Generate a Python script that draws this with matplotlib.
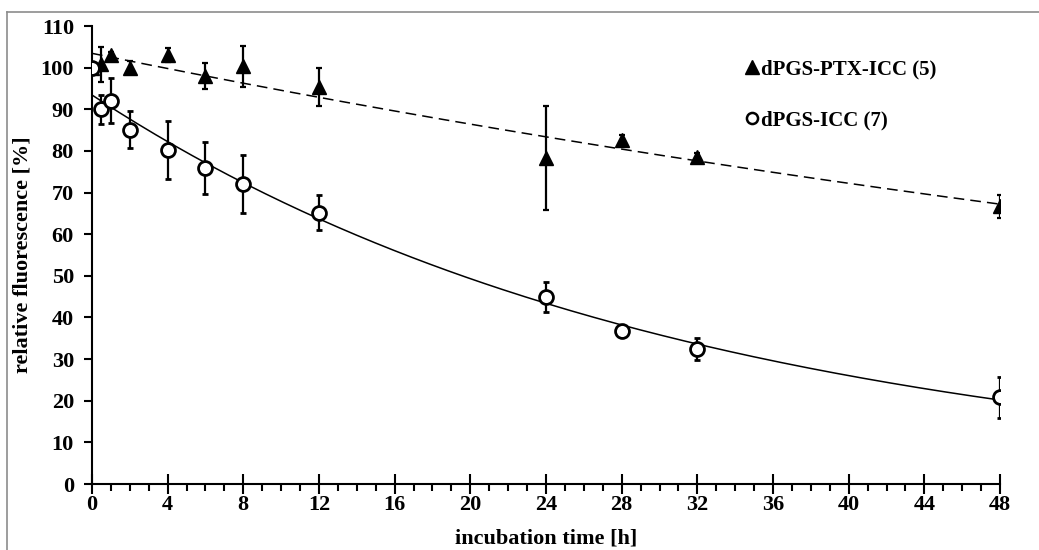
import numpy as np
import matplotlib
matplotlib.use('Agg')
import matplotlib.pyplot as plt
from matplotlib.lines import Line2D

plt.rcParams['font.family'] = ['Liberation Serif', 'DejaVu Serif']
plt.rcParams['font.weight'] = 'bold'

# incubation time [h]
t = [0, 0.5, 1, 2, 4, 6, 8, 12, 24, 28, 32, 48]

# dPGS-PTX-ICC (5)
ptx_y = [100, 100.8, 103, 100, 103, 97.9, 100.3, 95.3, 78.3, 82.6, 78.6, 66.7]
ptx_err = [0, 4.2, 0.8, 1.6, 1.6, 3.1, 4.9, 4.6, 12.5, 1.2, 1.0, 2.8]

# dPGS-ICC (7)
icc_y = [100, 90.0, 92.1, 85.1, 80.3, 75.9, 72.0, 65.1, 44.9, 36.7, 32.4, 20.8]
icc_err = [1.0, 3.5, 5.3, 4.5, 7.0, 6.2, 6.9, 4.2, 3.6, 1.0, 2.7, 5.0]

fig = plt.figure(figsize=(10.39, 5.5), dpi=100)
ax = fig.add_axes([0.0885, 0.12, 0.874, 0.8327])

# exponential trend lines fitted to the data
tt = np.linspace(0, 48, 200)
k1, b1 = np.polyfit(t, np.log(ptx_y), 1)
k2, b2 = np.polyfit(t, np.log(icc_y), 1)
ax.plot(tt, np.exp(b1 + k1 * tt), color='black', lw=1.1, ls=(0, (7, 4)))
ax.plot(tt, np.exp(b2 + k2 * tt), color='black', lw=1.1)

ax.errorbar(t, ptx_y, yerr=ptx_err, fmt='^', color='black', ms=10,
            elinewidth=1.6, capsize=2, capthick=1.6, zorder=3)
ax.errorbar(t, icc_y, yerr=icc_err, fmt='o', mfc='white', mec='black', mew=2,
            color='black', ms=10, elinewidth=1.6, capsize=2, capthick=1.6, zorder=3)

ax.set_xlim(0, 48)
ax.set_ylim(0, 110)
ax.set_xticks([0, 4, 8, 12, 16, 20, 24, 28, 32, 36, 40, 44, 48])
ax.set_xticks(np.arange(0, 49, 1), minor=True)
ax.set_yticks(np.arange(0, 111, 10))

for s in ['top', 'right']:
    ax.spines[s].set_visible(False)
for s in ['left', 'bottom']:
    ax.spines[s].set_linewidth(1.5)

ax.tick_params(axis='x', which='major', direction='inout', length=14, width=1.5,
               labelsize=16, pad=1)
ax.tick_params(axis='x', which='minor', direction='out', length=5, width=1.5)
ax.tick_params(axis='y', which='major', direction='out', length=6, width=1.5,
               labelsize=16, pad=7)

ax.set_xlabel('incubation time [h]', fontsize=16, fontweight='bold', labelpad=10)
ax.set_ylabel('relative fluorescence [%]', fontsize=16, fontweight='bold', labelpad=6)

handles = [Line2D([], [], marker='^', color='black', ls='none', ms=10),
           Line2D([], [], marker='o', mfc='white', mec='black', mew=1.8, ls='none', ms=8)]
ax.legend(handles, ['dPGS-PTX-ICC (5)', 'dPGS-ICC (7)'], loc='upper left',
          bbox_to_anchor=(0.708, 0.95), frameon=False, fontsize=15,
          handlelength=0.6, handletextpad=0.15, labelspacing=1.5, borderpad=0)

# outer frame (top and left edges visible)
fig.add_artist(Line2D([7 / 1039, 1], [1 - 12 / 550, 1 - 12 / 550], color='#8c8c8c', lw=1.2))
fig.add_artist(Line2D([7 / 1039, 7 / 1039], [0, 1 - 12 / 550], color='#8c8c8c', lw=1.2))

fig.savefig('out.png', dpi=100)
